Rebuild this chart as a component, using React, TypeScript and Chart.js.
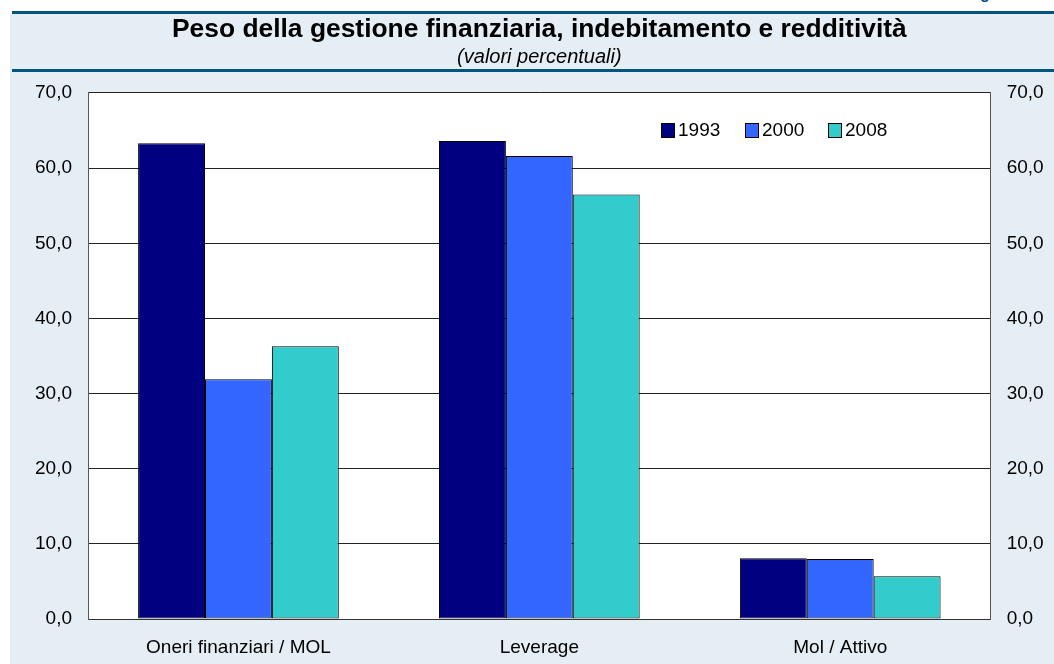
import React, { useEffect, useRef } from 'react';
import { Chart, registerables } from 'chart.js';

Chart.register(...registerables);

const categories = ['Oneri finanziari / MOL', 'Leverage', 'Mol / Attivo'];
const seriesLabels = ['1993', '2000', '2008'];
const values1993 = [63.3, 63.6, 8.1];
const values2000 = [31.9, 61.6, 8.0];
const values2008 = [36.3, 56.5, 5.7];
const seriesColors = ['#000080', '#3366ff', '#33cccc'];
const yMin = 0;
const yMax = 70;
const yStep = 10;
const titleText = 'Peso della gestione finanziaria, indebitamento e redditività';
const subtitleText = '(valori percentuali)';

const FONT = "'Liberation Sans', Arial, Helvetica, sans-serif";
const LINE_COLOR = '#00557f';
const BG_COLOR = '#e6eef5';

const fmt = (v: number | string) => Number(v).toFixed(1).replace('.', ',');

const plotBg = {
  id: 'plotBg',
  beforeDraw(chart: any) {
    const { ctx, chartArea } = chart;
    ctx.save();
    ctx.fillStyle = '#ffffff';
    ctx.fillRect(chartArea.left, chartArea.top, chartArea.width, chartArea.height);
    ctx.restore();
  },
};

// Horizontal legend drawn inside the plot area (top right part)
const insideLegend = {
  id: 'insideLegend',
  afterDraw(chart: any) {
    const { ctx } = chart;
    const startX = 661;
    const step = 83.5;
    const boxTop = 123;
    const boxW = 13;
    const boxH = 14;
    ctx.save();
    ctx.font = `19px ${FONT}`;
    ctx.textBaseline = 'middle';
    ctx.textAlign = 'left';
    chart.data.datasets.forEach((ds: any, i: number) => {
      const x = Math.round(startX + i * step) + 0.5;
      ctx.fillStyle = ds.backgroundColor;
      ctx.fillRect(x, boxTop + 0.5, boxW, boxH);
      ctx.strokeStyle = '#000000';
      ctx.lineWidth = 1;
      ctx.strokeRect(x, boxTop + 0.5, boxW, boxH);
      ctx.fillStyle = '#000000';
      ctx.fillText(ds.label, x + boxW + 3.5, boxTop + boxH / 2 + 1);
    });
    ctx.restore();
  },
};

export default function App() {
  const canvasRef = useRef<HTMLCanvasElement | null>(null);

  useEffect(() => {
    if (!canvasRef.current) return;
    const seriesValues = [values1993, values2000, values2008];
    const chart = new Chart(canvasRef.current, {
      type: 'bar',
      data: {
        labels: categories,
        datasets: seriesLabels.map((label, i) => ({
          label,
          data: seriesValues[i],
          backgroundColor: seriesColors[i],
          borderColor: '#000000',
          borderWidth: 1,
          borderSkipped: false,
          categoryPercentage: 0.667,
          barPercentage: 1.0,
          yAxisID: 'y',
        })),
      },
      options: {
        animation: false,
        responsive: true,
        maintainAspectRatio: false,
        events: [],
        layout: { padding: 0 },
        plugins: {
          tooltip: { enabled: false },
          legend: { display: false },
          title: {
            display: true,
            text: titleText,
            fullSize: false,
            color: '#000000',
            font: { family: FONT, size: 26.4, weight: 'bold', lineHeight: 1.2 },
            padding: { top: 14.2, bottom: 0 },
          },
          subtitle: {
            display: true,
            text: subtitleText,
            fullSize: false,
            color: '#000000',
            font: { family: FONT, size: 20, style: 'italic', lineHeight: 1.2 },
            padding: { top: 0, bottom: 23.1 },
          },
        },
        scales: {
          x: {
            grid: { display: false, drawTicks: false },
            border: { display: true, color: '#333333', width: 1 },
            ticks: {
              color: '#000000',
              font: { family: FONT, size: 19 },
              padding: 17,
              maxRotation: 0,
            },
            afterFit(scale: any) {
              scale.height = 45;
            },
          },
          y: {
            type: 'linear',
            position: 'left',
            min: yMin,
            max: yMax,
            grid: { color: '#222222', lineWidth: 1, drawTicks: false },
            border: { display: true, color: '#555555', width: 1 },
            ticks: {
              stepSize: yStep,
              color: '#000000',
              font: { family: FONT, size: 19 },
              padding: 16,
              callback: (v: any) => fmt(v),
            },
            afterFit(scale: any) {
              scale.width = 88;
            },
          },
          y2: {
            type: 'linear',
            position: 'right',
            min: yMin,
            max: yMax,
            grid: { display: false, drawTicks: false },
            border: { display: true, color: '#555555', width: 1 },
            ticks: {
              stepSize: yStep,
              color: '#000000',
              font: { family: FONT, size: 19 },
              padding: 16,
              callback: (v: any) => fmt(v),
            },
            afterFit(scale: any) {
              scale.width = 63.3;
            },
          },
        },
      } as any,
      plugins: [plotBg, insideLegend],
    });
    return () => chart.destroy();
  }, []);

  return (
    <div
      style={{
        position: 'fixed',
        left: 0,
        top: 0,
        width: 1054,
        height: 664,
        background: '#ffffff',
        overflow: 'hidden',
      }}
    >
      <div style={{ position: 'absolute', left: 10, top: 14, right: 0, bottom: 0, background: BG_COLOR }} />
      <div style={{ position: 'absolute', left: 12, top: 11, right: 0, height: 3, background: LINE_COLOR }} />
      <div style={{ position: 'absolute', left: 12, top: 69, right: 0, height: 2.5, background: LINE_COLOR }} />
      <div style={{ position: 'absolute', left: 978, top: 0, width: 20, height: 10, overflow: 'hidden' }}>
        <span
          style={{
            position: 'absolute',
            left: 2,
            top: -14,
            fontFamily: FONT,
            fontWeight: 'bold',
            fontSize: 16,
            lineHeight: '16px',
            color: LINE_COLOR,
          }}
        >
          g
        </span>
      </div>
      <div style={{ position: 'absolute', left: 0, top: 0, width: 1054, height: 664 }}>
        <canvas ref={canvasRef} />
      </div>
    </div>
  );
}
